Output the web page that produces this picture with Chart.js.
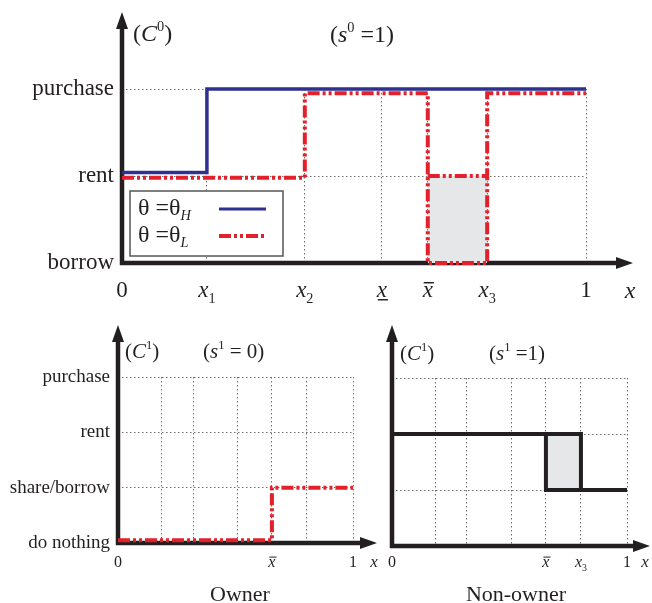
<!DOCTYPE html>
<html>
<head>
<meta charset="utf-8">
<script src="https://cdn.jsdelivr.net/npm/chart.js@4.4.0/dist/chart.umd.min.js"></script>
<style>
  body { margin: 0; background: #fff; }
  #wrap { position: relative; width: 652px; height: 603px; }
  canvas { position: absolute; }
</style>
</head>
<body>
<div id="wrap">
  <canvas id="top" width="652" height="305" style="left:0;top:0"></canvas>
  <canvas id="owner" width="380" height="298" style="left:0;top:305px"></canvas>
  <canvas id="nonowner" width="272" height="298" style="left:380px;top:305px"></canvas>
</div>
<script>
const SERIF = '"Liberation Serif", "Times New Roman", serif';
const INK = "#231f20";
const BLUE = "#2e3192";
const RED = "#e3212b";
const SHADE = "#e6e7e8";
const DASH = [12, 3, 3, 3, 3, 3];

// period 0 panel
const topLevels = ["borrow", "rent", "purchase"];
const topTicks = [0, 0.183, 0.394, 0.56, 0.659, 0.787, 1];
const topTickLabels = ["0", "x1", "x2", "xunder", "xbar", "x3", "1"];
const highX = [0, 0.183, 1];
const highY = [1.04, 2, 2];
const lowX = [0, 0.394, 0.659, 0.787, 1];
const lowY = [0.98, 1.95, 0, 1.95, 1.95];
const lowBoxX = [0.659, 0.787];
const lowBoxY = [1, 1];

// period 1 panels
const bottomLevels = ["do nothing", "share/borrow", "rent", "purchase"];
const ownerTicks = [0, 0.187, 0.323, 0.51, 0.655, 0.804, 1];
const ownerTickLabels = ["0", "", "", "", "xbar", "", "1"];
const ownerX = [0, 0.655, 1];
const ownerY = [0.05, 1, 1];
const nonTicks = [0, 0.183, 0.319, 0.51, 0.655, 0.804, 1];
const nonTickLabels = ["0", "", "", "", "xbar", "x3", "1"];
const nonX = [0, 0.804, 1];
const nonY = [2, 1, 1];
const nonBoxX = [0.655, 0.655, 0.804];
const nonBoxY = [2, 1, 1];
const nonShadeX = [0.655, 0.804];
const nonShadeY = [2, 2];

function pts(xs, ys) {
  return xs.map((x, i) => ({ x: x, y: ys[i] }));
}

function font(size, italic) {
  return (italic ? "italic " : "") + size + "px " + SERIF;
}

// pieces: [text, italic, scale, dy in em]
function drawRich(ctx, pieces, x, y, size, align) {
  let w = 0;
  pieces.forEach(p => {
    ctx.font = font(size * p[2], p[1]);
    w += ctx.measureText(p[0]).width;
  });
  let cx = align === "center" ? x - w / 2 : x;
  ctx.textAlign = "left";
  ctx.textBaseline = "alphabetic";
  pieces.forEach(p => {
    ctx.font = font(size * p[2], p[1]);
    ctx.fillText(p[0], cx, y + p[3] * size);
    cx += ctx.measureText(p[0]).width;
  });
  return w;
}

function drawTick(ctx, lab, cx, base, size) {
  if (!lab) return;
  let pieces;
  if (/^x\d$/.test(lab)) pieces = [["x", 1, 1, 0], [lab[1], 0, 0.62, 0.28]];
  else if (lab[0] === "x") pieces = [["x", 1, 1, 0]];
  else pieces = [[lab, 0, 1, 0]];
  const w = drawRich(ctx, pieces, cx, base, size, "center");
  if (lab === "xbar" || lab === "xunder") {
    const yy = lab === "xbar" ? base - 0.62 * size : base + 0.12 * size;
    ctx.lineWidth = Math.max(1, size / 16);
    ctx.beginPath();
    ctx.moveTo(cx - w / 2 + 1, yy);
    ctx.lineTo(cx + w / 2 + 1, yy);
    ctx.stroke();
  }
}

const panelPlugin = {
  id: "panel",
  beforeDatasetsDraw(chart, args, o) {
    const ctx = chart.ctx;
    const { left, bottom } = chart.chartArea;
    ctx.save();
    ctx.strokeStyle = INK;
    ctx.fillStyle = INK;
    ctx.lineWidth = 4.5;
    ctx.beginPath();
    ctx.moveTo(left, bottom + 2);
    ctx.lineTo(left, o.arrowTop + 12);
    ctx.moveTo(left - 2, bottom);
    ctx.lineTo(o.arrowRight - 12, bottom);
    ctx.stroke();
    ctx.beginPath();
    ctx.moveTo(left, o.arrowTop);
    ctx.lineTo(left - 6, o.arrowTop + 17);
    ctx.lineTo(left + 6, o.arrowTop + 17);
    ctx.closePath();
    ctx.moveTo(o.arrowRight, bottom);
    ctx.lineTo(o.arrowRight - 17, bottom - 6);
    ctx.lineTo(o.arrowRight - 17, bottom + 6);
    ctx.closePath();
    ctx.fill();
    ctx.restore();
  },
  afterDraw(chart, args, o) {
    const ctx = chart.ctx;
    const xs = chart.scales.x;
    const area = chart.chartArea;
    ctx.save();
    ctx.fillStyle = INK;
    ctx.strokeStyle = INK;
    o.ticks.forEach((v, i) => drawTick(ctx, o.tickLabels[i], xs.getPixelForValue(v), o.tickBase, o.tickSize));
    drawRich(ctx, [["x", 1, 1, 0]], o.axisName[0], o.axisName[1], o.tickSize + 1, "center");
    o.notes.forEach(n => drawRich(ctx, n.pieces, n.x, n.y, o.noteSize, "left"));
    if (o.caption) {
      drawRich(ctx, [[o.caption[0], 0, 1, 0]], o.caption[1], o.caption[2], 22, "center");
    }
    if (o.legend) {
      const bx = area.left + 8, by = area.top + 102;
      ctx.fillStyle = "#fff";
      ctx.fillRect(bx, by, 153, 65);
      ctx.strokeStyle = "#555";
      ctx.lineWidth = 1.5;
      ctx.strokeRect(bx, by, 153, 65);
      ctx.fillStyle = INK;
      const subs = ["H", "L"];
      [0, 1].forEach(k => {
        const ds = chart.data.datasets[k];
        drawRich(ctx, [["θ", 0, 1, 0], [" =", 0, 1, 0], ["θ", 0, 1, 0], [subs[k], 1, 0.6, 0.22]],
          bx + 8, by + 24 + k * 27, 24, "left");
        ctx.strokeStyle = ds.borderColor;
        ctx.lineWidth = k === 0 ? 3 : 4;
        ctx.setLineDash(ds.borderDash || []);
        ctx.beginPath();
        ctx.moveTo(bx + 89, by + 18 + k * 27);
        ctx.lineTo(bx + 136, by + 18 + k * 27);
        ctx.stroke();
        ctx.setLineDash([]);
      });
    }
    ctx.restore();
  }
};

function scalesFor(ticks, levels, yWidth, labelSize, showY) {
  const grid = { color: "#6d6d6d", lineWidth: 1, drawTicks: false };
  const border = { display: false, dash: [1.5, 2.5] };
  return {
    x: {
      type: "linear", min: 0, max: 1,
      afterBuildTicks: s => { s.ticks = ticks.map(v => ({ value: v })); },
      afterFit: s => { s.height = 0; },
      ticks: { display: false },
      grid: grid, border: border
    },
    y: {
      type: "linear", min: 0, max: levels.length - 1,
      afterBuildTicks: s => { s.ticks = levels.map((l, i) => ({ value: i })); },
      afterFit: s => { s.width = yWidth; },
      ticks: {
        display: showY, autoSkip: false, padding: 8, color: INK,
        font: { family: SERIF, size: labelSize },
        callback: (v, i) => levels[i]
      },
      grid: grid, border: border
    }
  };
}

function baseOptions(padding, scales, panel) {
  return {
    responsive: false,
    animation: false,
    events: [],
    layout: { padding: padding },
    scales: scales,
    elements: { point: { radius: 0 } },
    plugins: { legend: { display: false }, tooltip: { enabled: false }, panel: panel }
  };
}

const line = (data, color, width, extra) => Object.assign({
  data: data, borderColor: color, borderWidth: width, pointRadius: 0, clip: false, fill: false
}, extra || {});

new Chart(document.getElementById("top"), {
  type: "line",
  data: {
    datasets: [
      line(pts(highX, highY), BLUE, 3.5, { label: "θ = θH", stepped: "before" }),
      line(pts(lowX, lowY), RED, 4, { label: "θ = θL", stepped: "before", borderDash: DASH }),
      line(pts(lowBoxX, lowBoxY), RED, 4, { borderDash: DASH, fill: "origin", backgroundColor: SHADE })
    ]
  },
  options: baseOptions({ top: 89, right: 66, bottom: 42, left: 0 },
    scalesFor(topTicks, topLevels, 122, 23, true),
    {
      arrowTop: 12, arrowRight: 633,
      ticks: topTicks, tickLabels: topTickLabels, tickBase: 297, tickSize: 23,
      axisName: [630, 298],
      noteSize: 24,
      notes: [
        { x: 133, y: 41, pieces: [["(", 0, 1, 0], ["C", 1, 1, 0], ["0", 0, 0.6, -0.42], [")", 0, 1, 0]] },
        { x: 330, y: 42, pieces: [["(", 0, 1, 0], ["s", 1, 1, 0], ["0", 0, 0.6, -0.42], [" =1)", 0, 1, 0]] }
      ],
      legend: true
    }),
  plugins: [panelPlugin]
});

new Chart(document.getElementById("owner"), {
  type: "line",
  data: {
    datasets: [
      line(pts(ownerX, ownerY), RED, 4, { stepped: "before", borderDash: DASH })
    ]
  },
  options: baseOptions({ top: 72, right: 27, bottom: 60, left: 0 },
    scalesFor(ownerTicks, bottomLevels, 118, 19, true),
    {
      arrowTop: 20, arrowRight: 377,
      ticks: ownerTicks, tickLabels: ownerTickLabels, tickBase: 262, tickSize: 16,
      axisName: [374, 262],
      noteSize: 21,
      notes: [
        { x: 125, y: 53, pieces: [["(", 0, 1, 0], ["C", 1, 1, 0], ["1", 0, 0.6, -0.42], [")", 0, 1, 0]] },
        { x: 203, y: 53, pieces: [["(", 0, 1, 0], ["s", 1, 1, 0], ["1", 0, 0.6, -0.42], [" = 0)", 0, 1, 0]] }
      ],
      caption: ["Owner", 240, 296]
    }),
  plugins: [panelPlugin]
});

new Chart(document.getElementById("nonowner"), {
  type: "line",
  data: {
    datasets: [
      line(pts(nonX, nonY), INK, 4, { stepped: "before" }),
      line(pts(nonBoxX, nonBoxY), INK, 4),
      line(pts(nonShadeX, nonShadeY), INK, 0, { fill: { value: 1 }, backgroundColor: SHADE })
    ]
  },
  options: baseOptions({ top: 73, right: 25, bottom: 57, left: 0 },
    scalesFor(nonTicks, bottomLevels, 12, 19, false),
    {
      arrowTop: 20, arrowRight: 270,
      ticks: nonTicks, tickLabels: nonTickLabels, tickBase: 262, tickSize: 16,
      axisName: [265, 262],
      noteSize: 21,
      notes: [
        { x: 20, y: 55, pieces: [["(", 0, 1, 0], ["C", 1, 1, 0], ["1", 0, 0.6, -0.42], [")", 0, 1, 0]] },
        { x: 109, y: 55, pieces: [["(", 0, 1, 0], ["s", 1, 1, 0], ["1", 0, 0.6, -0.42], [" =1)", 0, 1, 0]] }
      ],
      caption: ["Non-owner", 136, 296]
    }),
  plugins: [panelPlugin]
});
</script>
</body>
</html>
